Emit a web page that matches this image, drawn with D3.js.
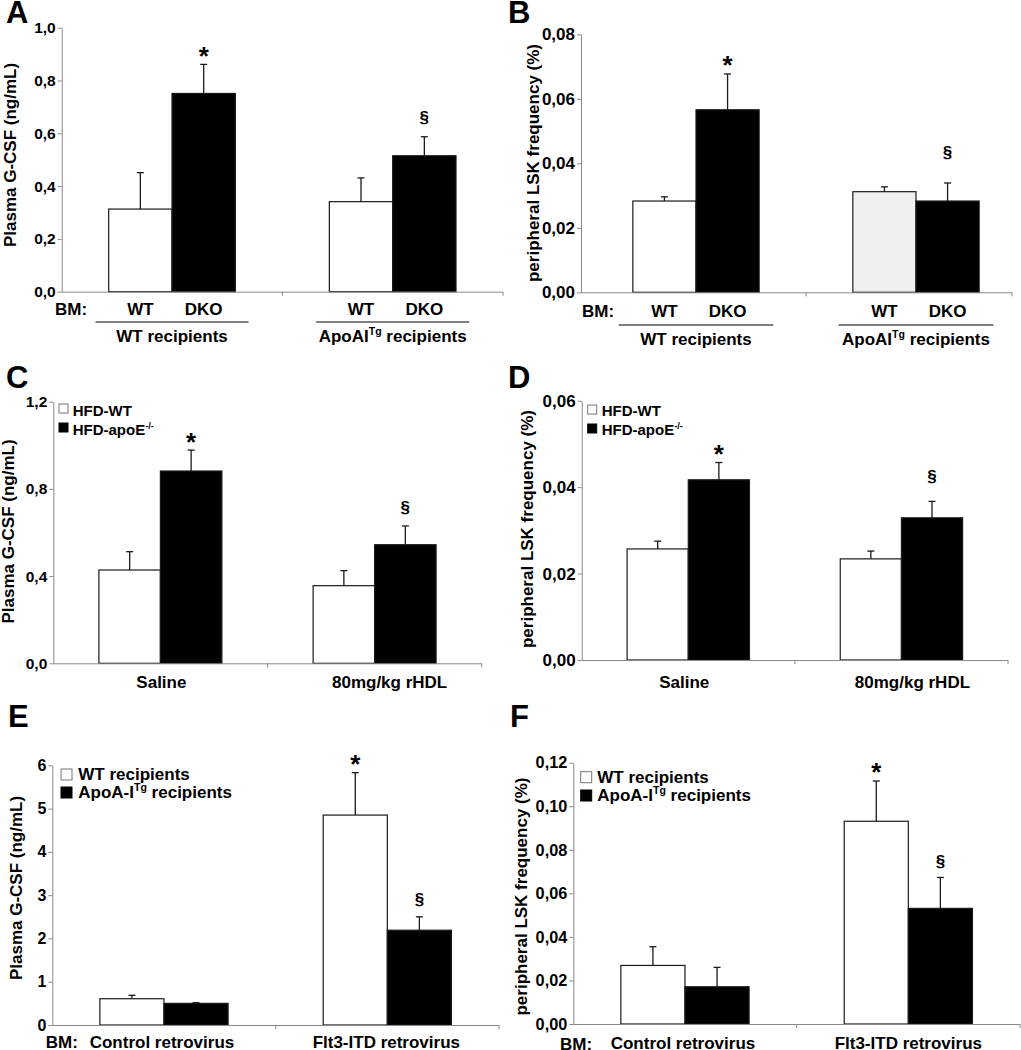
<!DOCTYPE html>
<html><head><meta charset="utf-8">
<script src="https://cdn.jsdelivr.net/npm/d3@7"></script>
<style>
body{margin:0;background:#fff;}
svg text{font-family:"Liberation Sans",Arial,Helvetica,sans-serif;font-weight:bold;fill:#000;}
</style></head><body>
<svg id="chart" width="1021" height="1050"></svg>
<script>
// ---------------- DATA ----------------
// Panel A: plasma G-CSF (ng/mL)
const groupsA = ["WT recipients", "ApoAI^{Tg} recipients"];
const seriesA = ["WT", "DKO"];
const meanA = [[0.313, 0.751], [0.341, 0.515]];
const semA  = [[0.138, 0.110], [0.090, 0.072]];
const ticksA = [0, 0.2, 0.4, 0.6, 0.8, 1.0];
const tickLabelsA = ["0,0", "0,2", "0,4", "0,6", "0,8", "1,0"];

// Panel B: peripheral LSK frequency (%)
const groupsB = ["WT recipients", "ApoAI^{Tg} recipients"];
const seriesB = ["WT", "DKO"];
const meanB = [[0.0283, 0.0566], [0.0312, 0.0283]];
const semB  = [[0.0013, 0.0111], [0.0015, 0.0056]];
const ticksB = [0, 0.02, 0.04, 0.06, 0.08];
const tickLabelsB = ["0,00", "0,02", "0,04", "0,06", "0,08"];

// Panel C: plasma G-CSF (ng/mL)
const groupsC = ["Saline", "80mg/kg rHDL"];
const seriesC = ["HFD-WT", "HFD-apoE^{-/-}"];
const meanC = [[0.428, 0.882], [0.356, 0.544]];
const semC  = [[0.084, 0.096], [0.069, 0.086]];
const ticksC = [0, 0.4, 0.8, 1.2];
const tickLabelsC = ["0,0", "0,4", "0,8", "1,2"];

// Panel D: peripheral LSK frequency (%)
const groupsD = ["Saline", "80mg/kg rHDL"];
const seriesD = ["HFD-WT", "HFD-apoE^{-/-}"];
const meanD = [[0.0257, 0.0417], [0.0234, 0.0329]];
const semD  = [[0.0018, 0.0040], [0.0018, 0.0038]];
const ticksD = [0, 0.02, 0.04, 0.06];
const tickLabelsD = ["0,00", "0,02", "0,04", "0,06"];

// Panel E: plasma G-CSF (ng/mL)
const groupsE = ["Control retrovirus", "Flt3-ITD retrovirus"];
const seriesE = ["WT recipients", "ApoA-I^{Tg} recipients"];
const meanE = [[0.607, 0.500], [4.85, 2.19]];
const semE  = [[0.079, 0.015], [0.98, 0.31]];
const ticksE = [0, 1, 2, 3, 4, 5, 6];
const tickLabelsE = ["0", "1", "2", "3", "4", "5", "6"];

// Panel F: peripheral LSK frequency (%)
const groupsF = ["Control retrovirus", "Flt3-ITD retrovirus"];
const seriesF = ["WT recipients", "ApoA-I^{Tg} recipients"];
const meanF = [[0.0269, 0.0171], [0.0931, 0.0531]];
const semF  = [[0.0086, 0.0089], [0.0185, 0.0142]];
const ticksF = [0, 0.02, 0.04, 0.06, 0.08, 0.10, 0.12];
const tickLabelsF = ["0,00", "0,02", "0,04", "0,06", "0,08", "0,10", "0,12"];

// significance markers: [groupIndex, seriesIndex, symbol]
const sigAB = [[0, 1, "*"], [1, 1, "§"]];
const sigEF = [[1, 0, "*"], [1, 1, "§"]];

const labelGCSF = "Plasma G-CSF (ng/mL)";
const labelLSK = "peripheral LSK frequency (%)";

// ---------------- LAYOUT / STYLE ----------------
const W = "#ffffff", K = "#000000", G = "#efefef";
const panels = [
  {letter:"A", lx:6, ly:23, groups:groupsA, series:seriesA, mean:meanA, sem:semA, ticks:ticksA, tl:tickLabelsA, max:1.0,
   x0:61.7, yB:291.7, yT:27.7, xr:[61.7,503], axisEnd:503, tickFs:15.5, fills:[[W,K],[W,K]],
   ylab:labelGCSF, ylx:15.5, yly:155, sig:sigAB, secGap:18.7,
   mode:"bm", bmX:55, bmY:314.5, ulY:322, ulHalf:76.5, grpY:342},
  {letter:"B", lx:508, ly:23, groups:groupsB, series:seriesB, mean:meanB, sem:semB, ticks:ticksB, tl:tickLabelsB, max:0.08,
   x0:581, yB:292.3, yT:34.3, xr:[586,1026], axisEnd:1012, tickFs:17, fills:[[W,K],[G,K]],
   ylab:labelLSK, ylx:538.5, yly:163, sig:sigAB, secGap:30,
   mode:"bm", bmX:582, bmY:316.7, ulY:325, ulHalf:77.5, grpY:344.5},
  {letter:"C", lx:6, ly:388, groups:groupsC, series:seriesC, mean:meanC, sem:semC, ticks:ticksC, tl:tickLabelsC, max:1.2,
   x0:53.3, yB:663.3, yT:401.7, xr:[53.3,481.7], axisEnd:481.7, tickFs:15.5, fills:[[W,K],[W,K]],
   ylab:labelGCSF, ylx:13.8, yly:531.5, sig:sigAB, secGap:18,
   mode:"plain", grpY:688, grpDx:[1,15],
   legend:{x:59, y:404, size:9, step:19, tx:72.7, off:11.5, fs:15}},
  {letter:"D", lx:508, ly:388, groups:groupsD, series:seriesD, mean:meanD, sem:semD, ticks:ticksD, tl:tickLabelsD, max:0.06,
   x0:581.7, yB:660, yT:400.7, xr:[581.7,1008], axisEnd:1008, tickFs:17, fills:[[W,K],[W,K]],
   ylab:labelLSK, ylx:532.7, yly:529, sig:sigAB, secGap:24.6,
   mode:"plain", grpY:688, grpDx:[-4,11],
   legend:{x:587.7, y:405, size:9, step:19, tx:601.7, off:11.3, fs:15}},
  {letter:"E", lx:8, ly:727, groups:groupsE, series:seriesE, mean:meanE, sem:semE, ticks:ticksE, tl:tickLabelsE, max:6,
   x0:52.3, yB:1025, yT:765.3, xr:[52.3,499], axisEnd:499, tickFs:16, fills:[[W,K],[W,K]],
   ylab:labelGCSF, ylx:21.8, yly:888, sig:sigEF, secGap:16.7,
   mode:"bmgroup", bmX:45.7, bmY:1048, grpY:1048, grpDx:[-2,-1],
   legend:{x:61, y:769, size:11, step:18, tx:78.3, off:10.5, fs:17}},
  {letter:"F", lx:510, ly:727, groups:groupsF, series:seriesF, mean:meanF, sem:semF, ticks:ticksF, tl:tickLabelsF, max:0.12,
   x0:573.3, yB:1024, yT:762.7, xr:[573.3,1020], axisEnd:1020, tickFs:16.3, fills:[[W,K],[W,K]],
   ylab:labelLSK, ylx:526.8, yly:896.5, sig:sigEF, secGap:15.6,
   mode:"bmgroup", bmX:560, bmY:1049.5, grpY:1048.5, grpDx:[-2,0],
   legend:{x:580.7, y:771.7, size:11, step:18.3, tx:597.3, off:11, fs:17}}
];

const AXIS = "#8a8a8a", BAR_STROKE = "#1a1a1a", ERR = "#1a1a1a";
const svg = d3.select("#chart");

function rich(sel, str, fs) {
  const parts = str.split(/(\^\{[^}]*\})/);
  let raised = false;
  parts.forEach(p => {
    if (!p) return;
    if (p.startsWith("^{")) {
      sel.append("tspan").attr("dy", -fs * 0.4).attr("font-size", fs * 0.62).text(p.slice(2, -1));
      raised = true;
    } else {
      const t = sel.append("tspan").text(p);
      if (raised) { t.attr("dy", fs * 0.4); raised = false; }
    }
  });
}

panels.forEach(P => {
  const g = svg.append("g");
  const y = d3.scaleLinear().domain([0, P.max]).range([P.yB, P.yT]);
  const xo = d3.scaleBand().domain(P.groups).range(P.xr);
  const xi = d3.scaleBand().domain(P.series).range([0, xo.bandwidth()]).paddingInner(0).paddingOuter(0.742);

  // panel letter
  g.append("text").attr("x", P.lx).attr("y", P.ly).attr("font-size", 31).text(P.letter);

  // bars
  P.groups.forEach((gr, gi) => {
    P.series.forEach((s, si) => {
      const v = P.mean[gi][si];
      g.append("rect")
        .attr("x", xo(gr) + xi(s)).attr("y", y(v))
        .attr("width", xi.bandwidth()).attr("height", y(0) - y(v))
        .attr("fill", P.fills[gi][si]).attr("stroke", BAR_STROKE).attr("stroke-width", 1.2);
    });
  });
  // error bars
  P.groups.forEach((gr, gi) => {
    P.series.forEach((s, si) => {
      const v = P.mean[gi][si], e = P.sem[gi][si];
      const cx = xo(gr) + xi(s) + xi.bandwidth() / 2;
      g.append("line").attr("x1", cx).attr("x2", cx).attr("y1", y(v)).attr("y2", y(v + e))
        .attr("stroke", ERR).attr("stroke-width", 1.3);
      g.append("line").attr("x1", cx - 3.5).attr("x2", cx + 3.5).attr("y1", y(v + e)).attr("y2", y(v + e))
        .attr("stroke", ERR).attr("stroke-width", 1.3);
    });
  });
  // significance
  P.sig.forEach(([gi, si, sym]) => {
    const gr = P.groups[gi], s = P.series[si];
    const cx = xo(gr) + xi(s) + xi.bandwidth() / 2;
    const top = y(P.mean[gi][si] + P.sem[gi][si]);
    if (sym === "*") {
      g.append("text").attr("x", cx).attr("y", top - 14 + 14.5).attr("text-anchor", "middle")
        .attr("font-size", 26).text(sym);
    } else {
      g.append("text").attr("x", cx).attr("y", top - P.secGap + 5).attr("text-anchor", "middle")
        .attr("font-size", 17).text(sym);
    }
  });

  // y axis
  const ya = g.append("g").attr("transform", `translate(${P.x0},0)`)
    .call(d3.axisLeft(y).tickValues(P.ticks).tickFormat((d, i) => P.tl[i]).tickSize(4).tickSizeOuter(0).tickPadding(2));
  ya.selectAll("path,line").attr("stroke", AXIS).attr("stroke-width", 1);
  ya.selectAll("text").attr("font-size", P.tickFs).attr("fill", "#000")
    .style("font-family", '"Liberation Sans",Arial,sans-serif').style("font-weight", "bold");

  // x axis
  g.append("line").attr("x1", P.x0).attr("x2", P.axisEnd).attr("y1", P.yB + 0.5).attr("y2", P.yB + 0.5)
    .attr("stroke", AXIS).attr("stroke-width", 1);
  [xo(P.groups[1]), P.axisEnd].forEach(tx => {
    g.append("line").attr("x1", tx).attr("x2", tx).attr("y1", P.yB).attr("y2", P.yB + 4)
      .attr("stroke", AXIS).attr("stroke-width", 1);
  });

  // y label
  const yl = g.append("text").attr("transform", `translate(${P.ylx},${P.yly}) rotate(-90)`)
    .attr("text-anchor", "middle").attr("font-size", 17);
  rich(yl, P.ylab, 17);

  // x labels
  if (P.mode === "bm") {
    g.append("text").attr("x", P.bmX).attr("y", P.bmY).attr("font-size", 17).text("BM:");
    P.groups.forEach((gr, gi) => {
      P.series.forEach(s => {
        g.append("text").attr("x", xo(gr) + xi(s) + xi.bandwidth() / 2).attr("y", P.bmY)
          .attr("text-anchor", "middle").attr("font-size", 17).text(s);
      });
      const c = xo(gr) + xo.bandwidth() / 2;
      g.append("line").attr("x1", c - P.ulHalf).attr("x2", c + P.ulHalf).attr("y1", P.ulY).attr("y2", P.ulY)
        .attr("stroke", "#000").attr("stroke-width", 1.2);
      const t = g.append("text").attr("x", c).attr("y", P.grpY).attr("text-anchor", "middle").attr("font-size", 17);
      rich(t, gr, 17);
    });
  } else {
    if (P.mode === "bmgroup") {
      g.append("text").attr("x", P.bmX).attr("y", P.bmY).attr("font-size", 17).text("BM:");
    }
    P.groups.forEach((gr, gi) => {
      const c = xo(gr) + xo.bandwidth() / 2 + P.grpDx[gi];
      const t = g.append("text").attr("x", c).attr("y", P.grpY).attr("text-anchor", "middle").attr("font-size", 17);
      rich(t, gr, 17);
    });
  }

  // legend
  if (P.legend) {
    const L = P.legend;
    P.series.forEach((s, si) => {
      const ty = L.y + si * L.step;
      g.append("rect").attr("x", L.x).attr("y", ty).attr("width", L.size).attr("height", L.size)
        .attr("fill", P.fills[0][si]).attr("stroke", si === 0 ? "#777" : "#000").attr("stroke-width", 1);
      const t = g.append("text").attr("x", L.tx).attr("y", ty + L.off).attr("font-size", L.fs);
      rich(t, s, L.fs);
    });
  }
});
</script>
</body></html>
